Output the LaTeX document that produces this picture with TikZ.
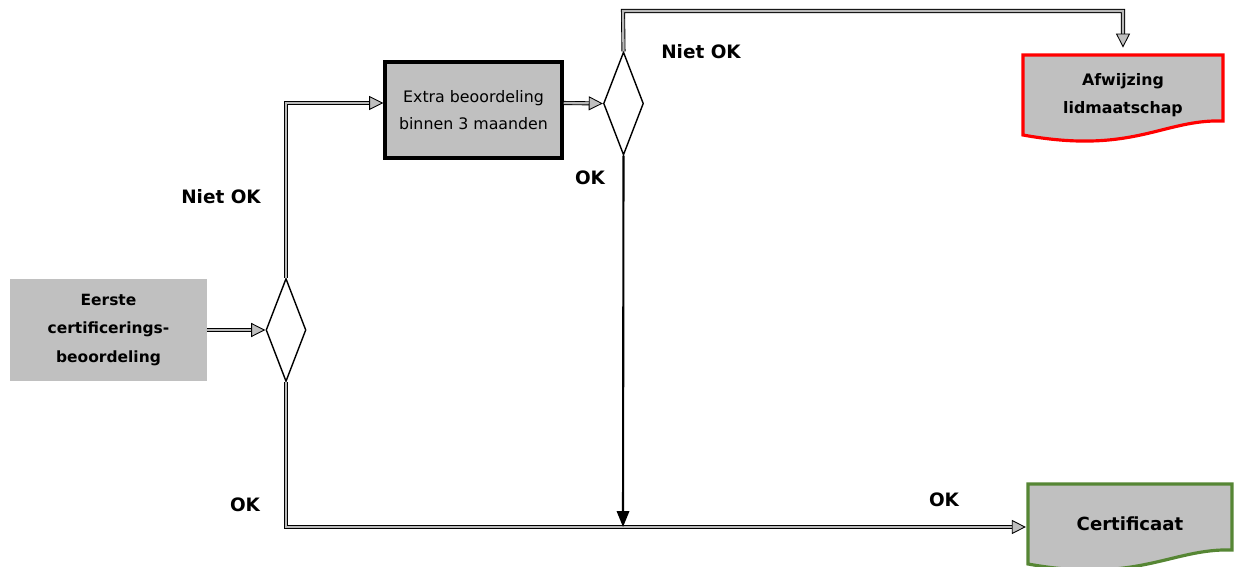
\documentclass[tikz,border=0pt]{standalone}
\usepackage{fontspec}
\setmainfont{DejaVu Sans}
\usepgflibrary{arrows.meta,shapes.geometric}
\definecolor{boxgray}{RGB}{192,192,192}
\definecolor{okgreen}{RGB}{86,134,52}
\def\docshape#1#2#3#4#5#6#7{
  % 1: left x
  % 2: top y
  % 3: right x
  % 4: colour
  % 5: name
  % 6: font
  % 7: text
  \draw[line width=1.8pt,color=#4,fill=boxgray] (#1,#2) -- (#3,#2) -- (#3,#2+66)
    .. controls (#3-60,#2+64) and (#1+110,#2+100) .. (#1,#2+80) -- cycle;
  \node[align=center,inner sep=0pt,font=#6,minimum width={(#3-#1)*0.02cm},minimum height=1.6cm] (#5) at ({(#1+#3)/2},#2+40) {#7};
}

\begin{document}
\begin{tikzpicture}[x=0.02cm,y=-0.02cm,
    flow/.style={line width=0.5pt,double=gray!55,double distance=1.3pt,
      -{Triangle[open,length=8pt,width=8pt,line width=0.5pt,fill=gray!50]}},
    task/.style={fill=boxgray,align=center,inner sep=0pt},
    choice/.style={diamond,draw,line width=0.8pt,minimum width=0.8cm,minimum height=2.06cm,inner sep=0pt},
    lbl/.style={font=\bfseries\fontsize{10.5}{12}\selectfont}]
  \useasboundingbox (0,0) rectangle (1234,567);
  % steps and choices
  \node[task,minimum width=3.94cm,minimum height=2.04cm,font=\bfseries\fontsize{8.8}{16}\selectfont]
    (first) at (108.5,330) {Eerste\\certificerings-\\beoordeling};
  \node[choice] (c1) at (286,330) {};
  \node[task,draw,line width=2pt,minimum width=3.54cm,minimum height=1.92cm,font=\fontsize{9}{15.5}\selectfont]
    (extra) at (473.5,110) {Extra beoordeling\\binnen 3 maanden};
  \node[choice] (c2) at (623.5,103.5) {};
  \docshape{1023}{55}{1223}{red}{reject}{\bfseries\fontsize{9}{16}\selectfont}{Afwijzing\\lidmaatschap}
  \docshape{1028}{484}{1232}{okgreen}{cert}{\bfseries\fontsize{10.3}{12}\selectfont}{Certificaat}
  \coordinate (top) at (623,11);
  \coordinate (join) at (623,527);
  % connectors
  \draw[flow] (first) -- (c1.west);
  \draw[flow] (c1.north) |- ([yshift=0.14cm]extra.west);
  \draw[flow] ([yshift=0.14cm]extra.east) -- (c2.west);
  \draw[flow,shorten >=4pt] (c2.north) -- (top) -| (reject.north);
  \draw[flow,shorten >=1pt] (c1.south) |- ([yshift=-0.06cm]cert.west);
  \draw[line width=1.2pt,-{Triangle[length=9pt,width=7pt]}] (c2.south) -- (join);
  % labels
  \node[lbl] (n1) at (221,197) {Niet OK};
  \node[lbl] (o1) at (245,505) {OK};
  \node[lbl] (n2) at (701,52) {Niet OK};
  \node[lbl] (o2) at (590,178) {OK};
  \node[lbl] (o3) at (944,500) {OK};
\end{tikzpicture}
\end{document}
